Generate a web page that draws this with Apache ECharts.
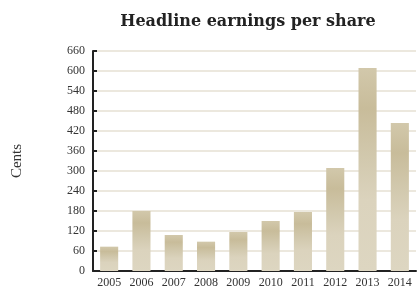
<!DOCTYPE html>
<html>
<head>
<meta charset="utf-8">
<script src="https://cdn.jsdelivr.net/npm/echarts@6/dist/echarts.min.js"></script>
<style>
  html, body { margin: 0; padding: 0; background: #fff; }
  #chart { width: 417px; height: 293px; }
</style>
</head>
<body>
<div id="chart"></div>
<script>
  var years = ['2005', '2006', '2007', '2008', '2009', '2010', '2011', '2012', '2013', '2014'];
  var eps = [73, 180, 108, 88, 117, 150, 177, 309, 609, 444];
  var yTicks = [0, 60, 660, 60]; // min, interval, max

  var serif = '"Liberation Serif", "DejaVu Serif", serif';

  var myChart = echarts.init(document.getElementById('chart'));
  // bar fill: darker toward the top, light beige at the base
  var barFill = new echarts.graphic.LinearGradient(0, 0, 0, 1, [
    {offset: 0, color: '#d2c8ab'},
    {offset: 0.2, color: '#c8bc9a'},
    {offset: 0.45, color: '#d2c9ae'},
    {offset: 0.65, color: '#dbd3bd'},
    {offset: 1, color: '#ddd6c1'}
  ]);

  var option = {
    animation: false,
    title: {
      text: 'Headline earnings per share',
      left: 243,
      top: 9,
      textAlign: 'center',
      textStyle: {
        fontFamily: '"DejaVu Serif", serif',
        fontWeight: 'bold',
        fontSize: 16,
        color: '#222'
      }
    },
    grid: {
      left: 93,
      right: 1,
      top: 51,
      bottom: 22
    },
    xAxis: {
      type: 'category',
      data: years,
      axisLine: { lineStyle: { color: '#222', width: 2 } },
      axisTick: { inside: true, length: 5, lineStyle: { color: '#222', width: 2 } },
      axisLabel: { fontFamily: serif, fontSize: 12, color: '#333', margin: 6 }
    },
    yAxis: {
      type: 'value',
      name: 'Cents',
      nameLocation: 'middle',
      nameGap: 68,
      nameTextStyle: { fontFamily: serif, fontSize: 15, color: '#333' },
      min: yTicks[0],
      interval: yTicks[1],
      max: yTicks[2],
      axisLine: { show: true, lineStyle: { color: '#222', width: 2 } },
      axisTick: { show: true, inside: true, length: 4, lineStyle: { color: '#222', width: 2 } },
      axisLabel: { fontFamily: serif, fontSize: 12, color: '#333', margin: 8 },
      splitLine: { lineStyle: { color: '#e6e1d3', width: 1.5 } }
    },
    series: [{
      type: 'bar',
      data: eps,
      barCategoryGap: '44%',
      itemStyle: { color: barFill }
    }]
  };

  myChart.setOption(option);
</script>
</body>
</html>
